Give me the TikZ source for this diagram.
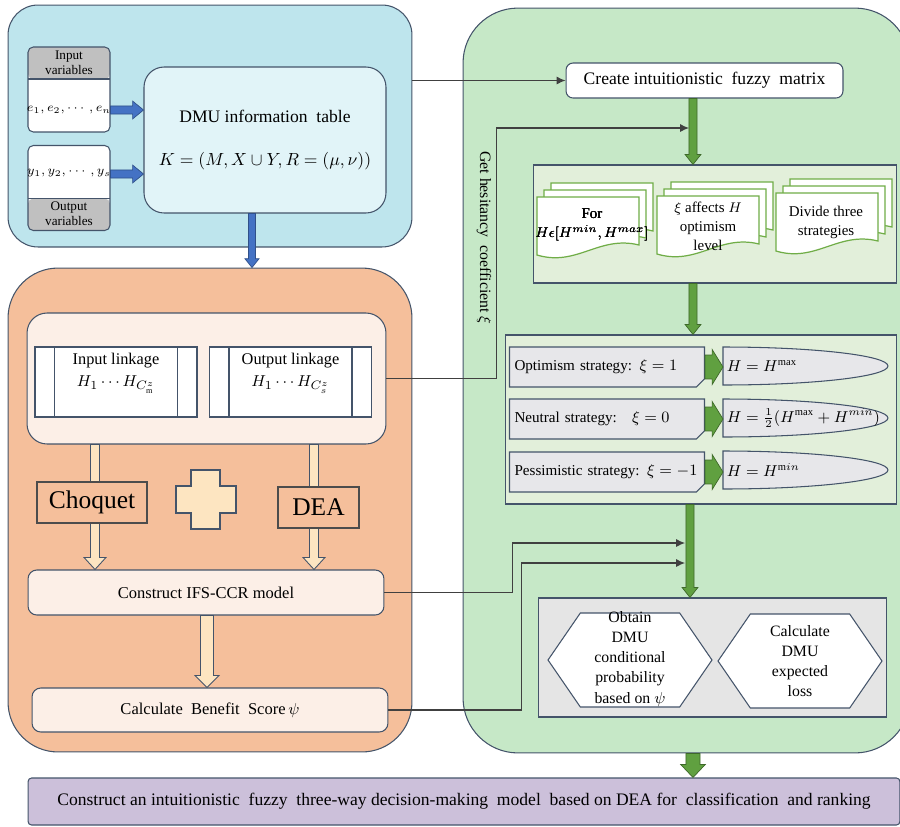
\documentclass[tikz,border=0pt]{standalone}
\usepackage{amsmath}
\usepackage{fontspec}
\setmainfont{Liberation Serif}
\usetikzlibrary{positioning,calc,shapes.misc,shapes.symbols,arrows.meta}

\definecolor{panelblue}{RGB}{190,229,237}
\definecolor{dmublue}{RGB}{225,244,248}
\definecolor{arrowblue}{RGB}{68,114,196}
\definecolor{panelorange}{RGB}{245,191,155}
\definecolor{creamfill}{RGB}{252,239,231}
\definecolor{arrowcream}{RGB}{253,229,193}
\definecolor{panelgreen}{RGB}{198,232,199}
\definecolor{docgreen}{RGB}{226,239,218}
\definecolor{arrowgreen}{RGB}{96,160,64}
\definecolor{pagegreen}{RGB}{112,173,71}
\definecolor{stratgray}{RGB}{231,231,234}
\definecolor{lossgray}{RGB}{229,229,229}
\definecolor{barlilac}{RGB}{204,192,218}
\definecolor{edgeslate}{RGB}{68,84,106}
\definecolor{headgray}{RGB}{192,192,192}

% block arrow from #2 to #3: shaft half width, head half width, head length
\newcommand{\blockarrow}[6][]{%
  \coordinate (ba-s) at (#2);
  \coordinate (ba-t) at (#3);
  \coordinate (ba-h) at ($(ba-t)!#6!(ba-s)$);
  \draw[#1] ($(ba-s)!#4!90:(ba-t)$) -- ($(ba-h)!#4!-90:(ba-s)$)
    -- ($(ba-h)!#5!-90:(ba-s)$) -- (ba-t) -- ($(ba-h)!#5!90:(ba-s)$)
    -- ($(ba-h)!#4!90:(ba-s)$) -- ($(ba-s)!#4!-90:(ba-t)$) -- cycle;}

% one wavy page, top left corner in pixels
\newcommand{\docpage}[2]{%
  \draw[page] (#1,#2) -- ++(102,0) -- ++(0,48)
    .. controls +(-40,-10) and +(40,12) .. ++(-102,10) -- cycle;}
\newcommand{\docstack}[2]{\docpage{#1+14}{#2-14}\docpage{#1+7}{#2-7}\docpage{#1}{#2}}

\begin{document}
\begin{tikzpicture}[x=0.02cm,y=-0.02cm,
  panel/.style={draw=edgeslate, line width=0.6pt},
  box/.style={draw=edgeslate, line width=0.6pt, align=center, inner sep=2pt},
  varbox/.style={draw=edgeslate, fill=white, line width=0.6pt, rounded corners=3pt,
    minimum width=1.64cm, minimum height=1.7cm},
  headtop/.style={path picture={
    \fill[headgray] (path picture bounding box.north west) rectangle ([yshift=-0.64cm]path picture bounding box.north east);
    \draw[edgeslate, line width=0.6pt] ([yshift=-0.64cm]path picture bounding box.north west) -- ([yshift=-0.64cm]path picture bounding box.north east);}},
  headbottom/.style={path picture={
    \fill[headgray] (path picture bounding box.south west) rectangle ([yshift=0.64cm]path picture bounding box.south east);
    \draw[edgeslate, line width=0.6pt] ([yshift=0.64cm]path picture bounding box.south west) -- ([yshift=0.64cm]path picture bounding box.south east);}},
  smalltxt/.style={align=center, inner sep=1pt, font=\fontsize{7.5}{8.5}\selectfont},
  linkstyle/.style={draw=edgeslate, fill=white, line width=0.6pt, minimum width=3.24cm, minimum height=1.4cm},
  linktxt/.style={align=center, inner sep=1pt, font=\fontsize{9.3}{13}\selectfont},
  method/.style={draw=black!70, fill=panelorange, line width=0.6pt, minimum height=0.82cm, font=\fontsize{14.5}{16}\selectfont},
  thinarrow/.style={draw=black!75, line width=0.6pt, -{Latex[length=5pt,width=4.5pt]}},
  bluearr/.style={fill=arrowblue, draw=arrowblue!70!black, line width=0.4pt},
  creamarr/.style={fill=arrowcream, draw=edgeslate, line width=0.5pt},
  greenarr/.style={fill=arrowgreen, draw=arrowgreen!65!black, line width=0.4pt},
  page/.style={draw=pagegreen, fill=white, line width=0.7pt},
  doctxt/.style={align=center, inner sep=1pt, font=\fontsize{8.5}{10.8}\selectfont},
  stratshape/.style={chamfered rectangle, chamfered rectangle corners=south east,
    chamfered rectangle xsep=1.5pt, draw=edgeslate, fill=stratgray, line width=0.6pt,
    minimum width=3.9cm, minimum height=0.8cm, text width=3.7cm, align=left,
    inner xsep=1pt, font=\fontsize{8.6}{10}\selectfont},
  ellshape/.style={draw=edgeslate, fill=stratgray, line width=0.6pt},
  hnode/.style={anchor=west, inner xsep=2pt, font=\fontsize{9}{11}\selectfont},
  hexa/.style={signal, signal to=west and east, signal pointer angle=111,
    draw=edgeslate, fill=white, line width=0.6pt, minimum width=3.28cm, minimum height=1.88cm},
  hextxt/.style={align=center, inner sep=0pt, font=\fontsize{9}{11.4}\selectfont}
]
\useasboundingbox (0,0) rectangle (900,826);
\clip (0,0) rectangle (900,826);

% panels
\node[panel, fill=panelblue, rounded corners=0.6cm, minimum width=8.08cm, minimum height=4.84cm] (bluepanel) at (210,126) {};
\node[panel, fill=panelorange, rounded corners=1cm, minimum width=8.08cm, minimum height=9.68cm] (orangepanel) at (210,510) {};
\node[panel, fill=panelgreen, rounded corners=1.1cm, minimum width=8.94cm, minimum height=14.9cm] (greenpanel) at (686.5,380.5) {};

% input / output variables and DMU table
\node[varbox, headtop] (invar) at (69,89.5) {};
\node[smalltxt] (invarhead) at (69,63) {Input\\variables};
\node[smalltxt] (invartxt) at (69,110) {$e_1,e_2,\cdots,e_n$};
\node[varbox, headbottom] (outvar) at (69,188) {};
\node[smalltxt] (outvartxt) at (69,173) {$y_1,y_2,\cdots,y_s$};
\node[smalltxt] (outvarfoot) at (69,214) {Output\\variables};
\node[box, fill=dmublue, rounded corners=0.4cm, minimum width=4.84cm, minimum height=2.92cm,
  font=\fontsize{10}{12}\selectfont] (dmu) at (265,140)
  {DMU information\ \ table\\[12pt]$K=(M,X\cup Y,R=(\mu,\nu))$};

\coordinate (ya) at (0,110);
\coordinate (yb) at (0,174);
\coordinate (bx) at (252,0);
\blockarrow[bluearr]{invar.east |- ya}{dmu.west |- ya}{2.3pt}{5.1pt}{6.2pt}
\blockarrow[bluearr]{outvar.east |- yb}{dmu.west |- yb}{2.3pt}{5.1pt}{6.2pt}
\blockarrow[bluearr]{dmu.south -| bx}{orangepanel.north -| bx}{2pt}{4pt}{5pt}

% linkage
\node[box, fill=creamfill, rounded corners=0.4cm, minimum width=7.18cm, minimum height=2.62cm] (linkbox) at (206.5,378.5) {};
\node[linkstyle] (inlink) at (116,382) {};
\node[linkstyle] (outlink) at (290.5,382) {};
\foreach \nm in {inlink,outlink} {
  \draw[edgeslate, line width=0.6pt] ([xshift=0.4cm]\nm.north west) -- ([xshift=0.4cm]\nm.south west);
  \draw[edgeslate, line width=0.6pt] ([xshift=-0.4cm]\nm.north east) -- ([xshift=-0.4cm]\nm.south east);
}
\node[linktxt] (inlinktxt) at (116,373) {Input linkage\\$H_1\cdots H_{C_{\mathrm{m}}^{z}}$};
\node[linktxt] (outlinktxt) at (290.5,373) {Output linkage\\$H_1\cdots H_{C_{s}^{z}}$};

\node[box, fill=creamfill, rounded corners=5pt, minimum width=7.12cm, minimum height=0.9cm,
  font=\fontsize{9.4}{11}\selectfont] (ifs) at (206,592.5) {Construct IFS-CCR model};
\node[box, fill=creamfill, rounded corners=5pt, minimum width=7.12cm, minimum height=0.88cm,
  font=\fontsize{9.4}{11}\selectfont] (benefit) at (210,710) {Calculate\ \ Benefit\ \ Score\,$\psi$};

\coordinate (cx1) at (95,0);
\coordinate (cx2) at (314,0);
\coordinate (cx3) at (207,0);
\blockarrow[creamarr]{linkbox.south -| cx1}{ifs.north -| cx1}{2.55pt}{6.2pt}{6.8pt}
\blockarrow[creamarr]{linkbox.south -| cx2}{ifs.north -| cx2}{2.55pt}{6.2pt}{6.8pt}
\blockarrow[creamarr]{ifs.south -| cx3}{benefit.north -| cx3}{3.7pt}{6.8pt}{6.8pt}

\node[method, minimum width=2.2cm] (choquet) at (92,502.5) {Choquet};
\node[method, minimum width=1.62cm] (dea) at (318.5,507.5) {DEA};
\draw[fill=arrowcream, draw=edgeslate, line width=0.6pt] (191,470) -- (220,470) -- (220,486) -- (236,486)
  -- (236,513) -- (220,513) -- (220,529) -- (191,529) -- (191,513) -- (176,513) -- (176,486) -- (191,486) -- cycle;

% green side
\node[box, fill=white, rounded corners=4pt, minimum width=5.54cm, minimum height=0.7cm,
  font=\fontsize{10}{12}\selectfont] (create) at (704.5,80.5) {Create intuitionistic\ \ fuzzy\ \ matrix};
\node[rotate=-90, font=\fontsize{9}{11}\selectfont] (hestxt) at (484,238) {Get hesitancy\ \ coefficient $\xi$};

\node[box, fill=docgreen, minimum width=7.28cm, minimum height=2.36cm] (docbox) at (715,224) {};
\foreach \dx/\dy in {537/197, 657/196, 776/193}
  \docstack{\dx}{\dy}
\node[doctxt] (dfor) at (592,225) {For\\$H\epsilon[H^{min},H^{max}]$};
\node[doctxt] (dxi) at (708,226) {$\xi$ affects $H$\\optimism\\level};
\node[doctxt] (ddiv) at (826,222) {Divide three\\strategies};

\node[box, fill=docgreen, minimum width=7.84cm, minimum height=3.38cm] (stratbox) at (701,419.5) {};
\node[stratshape] (strat1) at (607,367) {Optimism strategy: $\xi=1$};
\node[stratshape] (strat2) at (607,419) {Neutral strategy:\quad $\xi=0$};
\node[stratshape] (strat3) at (607,472) {Pessimistic strategy: $\xi=-1$};
\foreach \yy in {366,418,470}
  \draw[ellshape] (723,\yy-19) arc[start angle=90, end angle=-90, x radius=3.3cm, y radius=0.38cm] -- cycle;
\node[hnode] (hmax) at (723,366) {$H=H^{\mathrm{max}}$};
\node[hnode] (hmid) at (723,418) {$H=\frac{1}{2}(H^{\mathrm{max}}+H^{min})$};
\node[hnode] (hmin) at (723,470) {$H=H^{\mathrm{m}in}$};
\blockarrow[greenarr]{strat1.east}{strat1.east -| hmax.west}{6.8pt}{10pt}{6.2pt}
\blockarrow[greenarr]{strat2.east}{strat2.east -| hmid.west}{6.8pt}{10pt}{6.2pt}
\blockarrow[greenarr]{strat3.east}{strat3.east -| hmin.west}{6.8pt}{10pt}{6.2pt}

\node[box, fill=lossgray, minimum width=6.98cm, minimum height=2.38cm] (lossbox) at (712.5,657.5) {};
\node[hexa] (hexobt) at (630,660) {};
\node[hextxt] (hexobttxt) at (630,659) {Obtain\\DMU\\conditional\\probability\\based on $\psi$};
\node[hexa] (hexloss) at (800,661) {};
\node[hextxt] (hexlosstxt) at (800,661) {Calculate\\DMU\\expected\\loss};

\node[box, fill=barlilac, rounded corners=2pt, minimum width=17.44cm, minimum height=0.94cm,
  font=\fontsize{10}{12}\selectfont] (finalbar) at (464,801.5)
  {Construct an intuitionistic\ \ fuzzy\ \ three-way decision-making\ \ model\ \ based on DEA for\ \ classification\ \ and ranking};

% green flow arrows
\coordinate (gx) at (693,0);
\coordinate (gx2) at (690,0);
\blockarrow[greenarr]{create.south -| gx}{docbox.north -| gx}{2.3pt}{4.5pt}{5.7pt}
\blockarrow[greenarr]{docbox.south -| gx}{stratbox.north -| gx}{2.3pt}{4.5pt}{5.7pt}
\blockarrow[greenarr]{stratbox.south -| gx2}{lossbox.north -| gx2}{2.3pt}{4.5pt}{5.7pt}
\blockarrow[greenarr]{greenpanel.south -| gx}{finalbar.north -| gx}{4pt}{7pt}{7.4pt}

% thin connectors
\coordinate (hesin) at (689,128);
\coordinate (cin1) at (685,543);
\coordinate (cin2) at (685,563);
\draw[thinarrow] (bluepanel.east |- create.west) -- (create.west);
\draw[thinarrow] (linkbox.east) -- ++(110,0) |- (hesin);
\draw[thinarrow] (ifs.east) -- ++(128,0) |- (cin1);
\draw[thinarrow] (benefit.east) -- ++(133,0) |- (cin2);
\end{tikzpicture}
\end{document}
